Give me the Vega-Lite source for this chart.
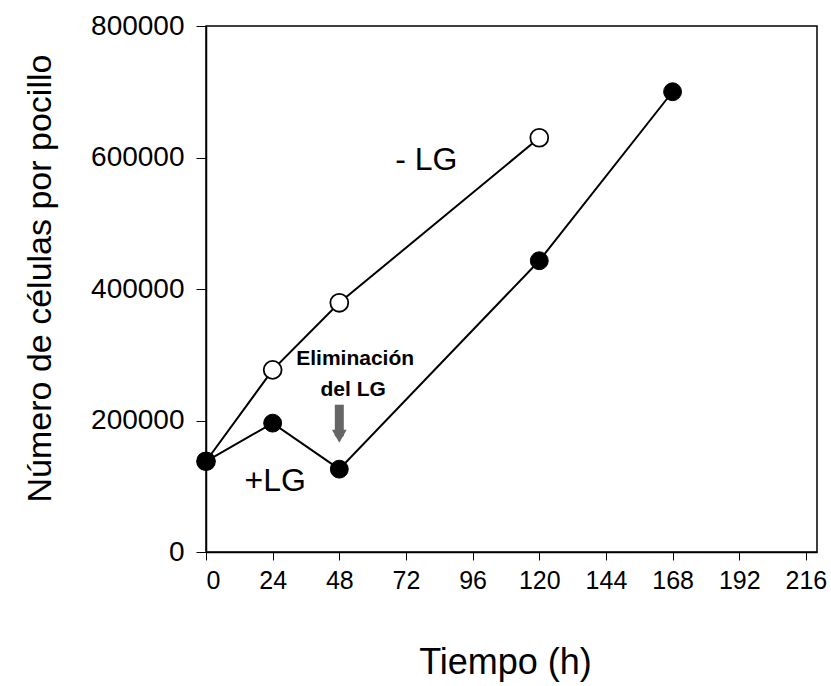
{
  "$schema": "https://vega.github.io/schema/vega-lite/v6.json",
  "autosize": {"type": "none"},
  "width": 611,
  "height": 526,
  "padding": {"left": 206, "top": 26, "right": 14, "bottom": 134},
  "background": "white",
  "config": {
    "font": "Liberation Sans",
    "view": {"stroke": "black", "strokeWidth": 1.5},
    "axis": {"grid": false, "domainColor": "black", "domainWidth": 1.5, "tickColor": "black", "tickWidth": 1, "labelColor": "black", "titleColor": "black", "labelFont": "Liberation Sans", "titleFont": "Liberation Sans", "titleFontWeight": "normal"}
  },
  "datasets": {
    "series": [
      {"t": 0, "cells": 138000, "group": "-LG"},
      {"t": 24, "cells": 277000, "group": "-LG"},
      {"t": 48, "cells": 379000, "group": "-LG"},
      {"t": 120, "cells": 630000, "group": "-LG"},
      {"t": 0, "cells": 138000, "group": "+LG"},
      {"t": 24, "cells": 196000, "group": "+LG"},
      {"t": 48, "cells": 126000, "group": "+LG"},
      {"t": 120, "cells": 443000, "group": "+LG"},
      {"t": 168, "cells": 700000, "group": "+LG"}
    ],
    "labels": [
      {"t": 79.3, "cells": 596000, "text": "- LG", "kind": "big"},
      {"t": 24.9, "cells": 108000, "text": "+LG", "kind": "big"},
      {"t": 53.7, "cells": 293000, "text": "Eliminación", "kind": "small"},
      {"t": 53.0, "cells": 247000, "text": "del LG", "kind": "small"}
    ],
    "arrow": [
      {"t": 48, "top": 224000, "bottom": 176000}
    ]
  },
  "layer": [
    {
      "data": {"name": "series"},
      "mark": {"type": "line", "color": "black", "strokeWidth": 2},
      "encoding": {
        "x": {"field": "t", "type": "quantitative", "scale": {"domain": [0, 220], "nice": false}, "axis": {"values": [0, 24, 48, 72, 96, 120, 144, 168, 192, 216], "tickSize": 8, "labelFontSize": 25, "labelPadding": 8, "title": "Tiempo (h)", "titleFontSize": 36, "titleX": 299, "titleY": 110, "titleBaseline": "middle", "titleAlign": "center"}},
        "y": {"field": "cells", "type": "quantitative", "scale": {"domain": [0, 800000], "nice": false}, "axis": {"values": [0, 200000, 400000, 600000, 800000], "format": "d", "tickSize": 10, "labelFontSize": 28, "labelPadding": 12, "title": "Número de células por pocillo", "titleFontSize": 34, "titleAngle": -90, "titleX": -166, "titleY": 252, "titleBaseline": "middle", "titleAlign": "center"}},
        "detail": {"field": "group"}
      }
    },
    {
      "data": {"name": "series"},
      "transform": [{"filter": "datum.group == '-LG'"}],
      "mark": {"type": "point", "shape": "circle", "size": 320, "filled": true, "fill": "white", "stroke": "black", "strokeWidth": 1.8, "opacity": 1},
      "encoding": {
        "x": {"field": "t", "type": "quantitative"},
        "y": {"field": "cells", "type": "quantitative"}
      }
    },
    {
      "data": {"name": "series"},
      "transform": [{"filter": "datum.group == '+LG'"}],
      "mark": {"type": "point", "shape": "circle", "size": 320, "filled": true, "fill": "black", "stroke": "black", "strokeWidth": 1, "opacity": 1},
      "encoding": {
        "x": {"field": "t", "type": "quantitative"},
        "y": {"field": "cells", "type": "quantitative"}
      }
    },
    {
      "data": {"name": "labels"},
      "transform": [{"filter": "datum.kind == 'big'"}],
      "mark": {"type": "text", "fontSize": 32, "color": "black", "align": "center", "baseline": "middle"},
      "encoding": {
        "x": {"field": "t", "type": "quantitative"},
        "y": {"field": "cells", "type": "quantitative"},
        "text": {"field": "text"}
      }
    },
    {
      "data": {"name": "labels"},
      "transform": [{"filter": "datum.kind == 'small'"}],
      "mark": {"type": "text", "fontSize": 21, "fontWeight": "bold", "color": "black", "align": "center", "baseline": "middle"},
      "encoding": {
        "x": {"field": "t", "type": "quantitative"},
        "y": {"field": "cells", "type": "quantitative"},
        "text": {"field": "text"}
      }
    },
    {
      "data": {"name": "arrow"},
      "mark": {"type": "rule", "color": "#666666", "strokeWidth": 9},
      "encoding": {
        "x": {"field": "t", "type": "quantitative"},
        "y": {"field": "top", "type": "quantitative"},
        "y2": {"field": "bottom"}
      }
    },
    {
      "data": {"name": "arrow"},
      "mark": {"type": "point", "shape": "triangle-down", "size": 220, "filled": true, "fill": "#666666", "stroke": null, "opacity": 1},
      "encoding": {
        "x": {"field": "t", "type": "quantitative"},
        "y": {"field": "bottom", "type": "quantitative"}
      }
    }
  ]
}
